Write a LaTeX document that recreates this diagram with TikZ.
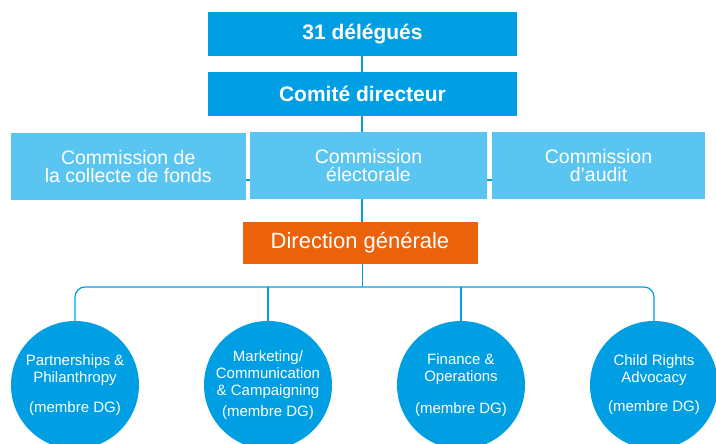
\documentclass[tikz,border=0pt]{standalone}
\usepackage{fontspec}
\setmainfont{Liberation Sans}
\usetikzlibrary{calc}
\definecolor{topblue}{RGB}{0,159,227}
\definecolor{comblue}{RGB}{91,197,242}
\definecolor{dgorange}{RGB}{235,98,10}

\begin{document}
\begin{tikzpicture}[x=1pt, y=-1pt,
    topbox/.style={fill=topblue, text=white, font=\fontsize{21}{24}\selectfont\bfseries, minimum width=309pt, minimum height=44pt, inner sep=0pt},
    combox/.style={fill=comblue, text=white, font=\fontsize{19.5}{18}\selectfont, align=center, minimum height=67pt, inner sep=0pt},
    dgbox/.style={fill=dgorange, text=white, font=\fontsize{22}{24}\selectfont, minimum width=235pt, minimum height=42pt, inner sep=0pt},
    pole/.style={circle, fill=topblue, minimum size=128pt, inner sep=0pt},
    poletext/.style={text=white, font=\fontsize{15}{17}\selectfont, align=center},
    link/.style={draw=topblue, line width=1.2pt}]

    \useasboundingbox (0,0) rectangle (716,444);

    \coordinate (comrow) at (0,180);
    \coordinate (bar) at (0,287);

    % lines first, boxes on top
    \draw[link] (362,34) -- (362,240);
    \draw[link] (130,180) -- (600,180);

    \node[topbox] (delegues) at (362.5,34) {31 délégués};
    \node[topbox] (comite) at (362.5,94) {Comité directeur};

    \node[combox, minimum width=235pt] (collecte) at (128.25,166.25) {Commission de\\la collecte de fonds};
    \node[combox, minimum width=237pt] (electorale) at (368.5,165.5) {Commission\\électorale};
    \node[combox, minimum width=213pt] (audit) at (598.5,165.5) {Commission\\d’audit};

    \node[dgbox] (direction) at (360,243) {Direction générale};

    \node[pole] (pole1) at (75,385) {};
    \node[pole] (pole2) at (268,385) {};
    \node[pole] (pole3) at (461,385) {};
    \node[pole] (pole4) at (654,385) {};

    \draw[link] (direction.south -| comite.south) -- (bar -| comite.south);
    \draw[link, rounded corners=10pt] (pole1.north) -- (pole1.north |- bar) -- (pole4.north |- bar) -- (pole4.north);
    \draw[link] (pole2.north |- bar) -- (pole2.north);
    \draw[link] (pole3.north |- bar) -- (pole3.north);

    \node[poletext] (pole1txt) at (pole1) {Partnerships \&\\Philanthropy\\[13pt](membre DG)};
    \node[poletext] (pole2txt) at (pole2) {Marketing/\\Communication\\\& Campaigning\\[4pt](membre DG)};
    \node[poletext] (pole3txt) at (pole3) {Finance \&\\Operations\\[15pt](membre DG)};
    \node[poletext] (pole4txt) at (pole4) {Child Rights\\Advocacy\\[12pt](membre DG)};

\end{tikzpicture}
\end{document}
